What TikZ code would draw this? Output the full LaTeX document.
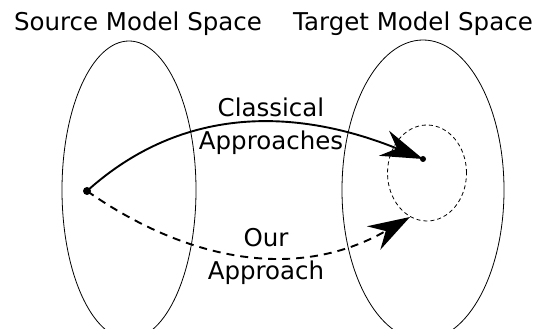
\documentclass[tikz,border=0pt]{standalone}
\usepackage{fontspec}
\setmainfont{DejaVu Sans}
\usetikzlibrary{arrows.meta,shapes.geometric}

\begin{document}
\begin{tikzpicture}[
	x=1pt, y=1pt,
	space/.style={draw, ellipse, line width=0.8pt, inner sep=0pt},
	dot/.style={fill, circle, inner sep=0pt},
	arr/.style={-{Stealth[length=42pt, width=27pt, inset=14pt]}, line width=1.9pt},
	lbl/.style={font=\fontsize{24.5}{33}\selectfont, align=center, inner sep=0pt},
	]
	\useasboundingbox (0,0) rectangle (535,329);
	
	\node[space, minimum width=134, minimum height=298] (srcspace) at (129,139) {};
	\node[space, minimum width=162, minimum height=300] (tgtspace) at (423,139) {};
	\node[space, dashed, dash pattern=on 4pt off 3pt, minimum width=79, minimum height=96] (region) at (427,156) {};
	
	\node[lbl] (srctitle) at (138,305) {Source Model Space};
	\node[lbl] (tgttitle) at (413,305) {Target Model Space};
	
	\node[dot, minimum size=8pt] (src) at (87,138) {};
	\node[dot, minimum size=6pt] (tgt) at (423,170) {};
	\coordinate (reach) at (410,112);
	
	\draw[arr] (src.center) to[out=42, in=158] (tgt.center);
	\draw[arr, dash pattern=on 8pt off 6pt] (src.center) to[out=-35, in=-150] (reach);
	
	\node[lbl] (classical) at (271,203) {Classical\\Approaches};
	\node[lbl] (ours) at (266,73) {Our\\Approach};
	
\end{tikzpicture}
\end{document}
